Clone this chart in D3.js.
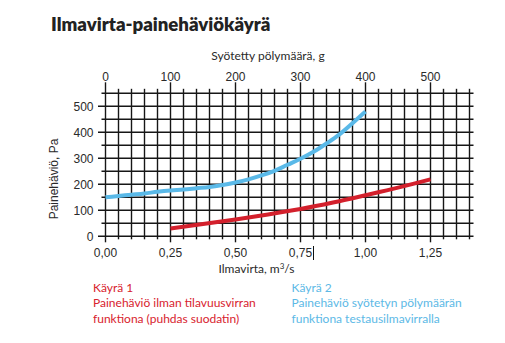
<!DOCTYPE html>
<html>
<head>
<meta charset="utf-8">
<script src="https://cdn.jsdelivr.net/npm/d3@7"></script>
<style>
  html, body { margin: 0; padding: 0; background: #fff; }
  svg { display: block; }
</style>
</head>
<body>
<svg id="chart" width="505" height="343"></svg>
<script>
// ---- data ----
const titleText = "Ilmavirta-painehäviökäyrä";
const flowTicks = [0, 0.25, 0.5, 0.75, 1.0, 1.25];
const flowTickLabels = ["0,00", "0,25", "0,50", "0,75", "1,00", "1,25"];
const dustTicks = [0, 100, 200, 300, 400, 500];
const dustTickLabels = ["0", "100", "200", "300", "400", "500"];
const paTicks = [0, 100, 200, 300, 400, 500];
const paTickLabels = ["0", "100", "200", "300", "400", "500"];

// Curve 1: pressure drop vs air flow (m3/s)
const curve1Flow = [0.25, 0.375, 0.5, 0.625, 0.75, 0.875, 1.0, 1.125, 1.25];
const curve1Pa   = [30, 47, 65, 84, 105, 130, 158, 187, 219];

// Curve 2: pressure drop vs dust fed (g)
const curve2Dust = [0, 20, 40, 60, 80, 100, 120, 140, 160, 180, 200, 220, 240, 260, 280, 300, 320, 340, 360, 380, 400];
const curve2Pa   = [150, 155, 160, 165, 171, 176, 180, 185, 190, 197, 207, 219, 234, 252, 275, 298, 325, 357, 392, 435, 480];

const legend1 = ["Käyrä 1", "Painehäviö ilman tilavuusvirran", "funktiona (puhdas suodatin)"];
const legend2 = ["Käyrä 2", "Painehäviö syötetyn pölymäärän", "funktiona testausilmavirralla"];

// ---- layout ----
const svg = d3.select("#chart");
const x = d3.scaleLinear().domain([0, 1.4]).range([105.5, 469.5]);
const xTop = d3.scaleLinear().domain([0, 560]).range([105.5, 469.5]);
const y = d3.scaleLinear().domain([0, 550]).range([236.3, 93.3]);

const red = "#d3202c";
const blue = "#5ab9e8";
const gridColor = "#161616";
const textColor = "#2a2a2a";
const tickFont = "'Liberation Sans', Arial, sans-serif";
const humanFont = "Lato, 'Open Sans', sans-serif";

// title
svg.append("text")
  .attr("x", 51).attr("y", 31)
  .attr("font-family", humanFont)
  .attr("font-weight", 800)
  .attr("font-size", 18.6)
  .attr("fill", "#222")
  .text(titleText);

// grid
const g = svg.append("g").attr("stroke", gridColor).attr("stroke-width", 1.4).attr("fill", "none");
const vLines = d3.range(0, 1.4001, 0.05);
vLines.forEach((v, i) => {
  const major = i % 5 === 0;
  g.append("line")
    .attr("x1", x(v)).attr("x2", x(v))
    .attr("y1", y(550) - (major ? 11 : 4.5))
    .attr("y2", y(0) + (major ? 6 : 3))
});
const hLines = d3.range(0, 551, 50);
hLines.forEach((v, i) => {
  const major = i % 2 === 0;
  g.append("line")
    .attr("y1", y(v)).attr("y2", y(v))
    .attr("x1", x(0) - (major ? 7.5 : 4))
    .attr("x2", x(1.4) + 4)
});

// curves
const line = d3.line().curve(d3.curveMonotoneX);
svg.append("path")
  .attr("d", line(curve1Flow.map((f, i) => [x(f), y(curve1Pa[i])])))
  .attr("fill", "none").attr("stroke", red).attr("stroke-width", 4);
svg.append("path")
  .attr("d", line(curve2Dust.map((d, i) => [xTop(d), y(curve2Pa[i])])))
  .attr("fill", "none").attr("stroke", blue).attr("stroke-width", 4);

// bottom tick labels
svg.append("g").selectAll("text").data(flowTicks).join("text")
  .attr("x", d => x(d)).attr("y", 256.5)
  .attr("text-anchor", "middle")
  .attr("font-family", tickFont).attr("font-size", 12).attr("fill", textColor)
  .text((d, i) => flowTickLabels[i]);

// stray mark near 0,75 label (present in reference)
svg.append("line")
  .attr("x1", x(0.75) + 13).attr("x2", x(0.75) + 13)
  .attr("y1", 246).attr("y2", 260)
  .attr("stroke", "#111").attr("stroke-width", 1);

// top tick labels
svg.append("g").selectAll("text").data(dustTicks).join("text")
  .attr("x", d => xTop(d)).attr("y", 81)
  .attr("text-anchor", "middle")
  .attr("font-family", tickFont).attr("font-size", 12).attr("fill", textColor)
  .text((d, i) => dustTickLabels[i]);

// left tick labels
svg.append("g").selectAll("text").data(paTicks).join("text")
  .attr("x", 93.5).attr("y", d => y(d) + 4.5)
  .attr("text-anchor", "end")
  .attr("font-family", tickFont).attr("font-size", 12).attr("fill", textColor)
  .text((d, i) => paTickLabels[i]);

// axis titles
svg.append("text")
  .attr("x", 268).attr("y", 60)
  .attr("text-anchor", "middle")
  .attr("font-family", humanFont).attr("font-size", 12).attr("fill", textColor)
  .text("Syötetty pölymäärä, g");

const xt = svg.append("text")
  .attr("x", 256.5).attr("y", 273)
  .attr("text-anchor", "middle")
  .attr("font-family", humanFont).attr("font-size", 12).attr("fill", textColor);
xt.append("tspan").text("Ilmavirta, m");
xt.append("tspan").attr("font-size", 8).attr("dy", -4.5).text("3");
xt.append("tspan").attr("dy", 4.5).text("/s");

svg.append("text")
  .attr("transform", "translate(58,179) rotate(-90)")
  .attr("text-anchor", "middle")
  .attr("font-family", tickFont).attr("font-size", 12).attr("fill", textColor)
  .text("Painehäviö, Pa");

// legend
function legend(lines, x0, color) {
  svg.append("g").selectAll("text").data(lines).join("text")
    .attr("x", x0).attr("y", (d, i) => 292 + i * 15.3)
    .attr("font-family", humanFont).attr("font-size", 12).attr("fill", color)
    .text(d => d);
}
legend(legend1, 93, "#d8222e");
legend(legend2, 291.5, "#5cb9e6");
</script>
</body>
</html>
